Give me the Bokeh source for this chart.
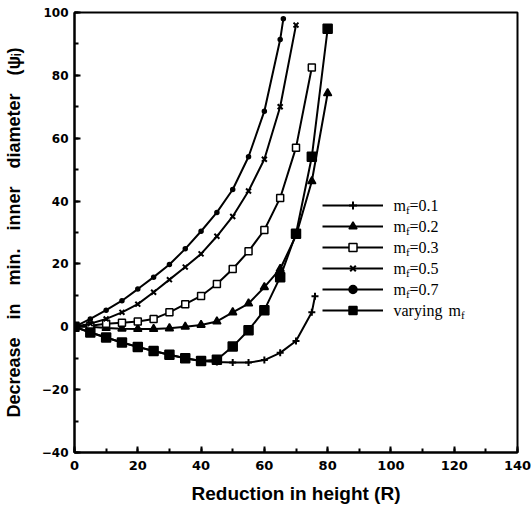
from bokeh.plotting import figure
from bokeh.models import Range1d, FixedTicker, Legend, LegendItem, Label
from bokeh.embed import file_html
from bokeh.resources import INLINE

# ---------------- data ----------------
x_01 = [0, 5, 10, 15, 20, 25, 30, 35, 40, 45, 50, 55, 60, 65, 70, 75, 76]
y_01 = [0, -1.8, -3.4, -5.0, -6.4, -7.7, -8.9, -10.0, -10.9, -11.2, -11.4, -11.4, -10.6, -8.3, -4.5, 4.6, 9.7]

x_02 = [0, 5, 10, 15, 20, 25, 30, 35, 40, 45, 50, 55, 60, 65, 70, 75, 80]
y_02 = [0, 0, -0.4, -0.6, -0.7, -0.7, -0.5, 0, 0.6, 1.7, 4.6, 7.4, 12.6, 18.4, 29.0, 46.3, 74.3]

x_03 = [0, 5, 10, 15, 20, 25, 30, 35, 40, 45, 50, 55, 60, 65, 70, 75]
y_03 = [0, 0.3, 1.0, 1.3, 1.7, 2.5, 4.6, 7.2, 9.8, 13.6, 18.4, 24.0, 30.8, 41.0, 57.0, 82.5]

x_05 = [0, 5, 10, 15, 20, 25, 30, 35, 40, 45, 50, 55, 60, 65, 70]
y_05 = [0, 1.0, 2.5, 4.6, 7.2, 11.0, 15.0, 19.0, 23.2, 28.8, 35.1, 43.2, 53.3, 70.0, 96.0]

x_07 = [0, 5, 10, 15, 20, 25, 30, 35, 40, 45, 50, 55, 60, 65, 66]
y_07 = [0, 2.5, 5.3, 8.3, 12.0, 15.8, 19.8, 24.8, 30.4, 36.4, 43.7, 54.1, 68.6, 91.4, 98.0]

x_var = [0, 5, 10, 15, 20, 25, 30, 35, 40, 45, 50, 55, 60, 65, 70, 75, 80]
y_var = [0, -1.8, -3.4, -5.0, -6.4, -7.7, -8.9, -10.0, -10.9, -10.5, -6.3, -1.1, 5.3, 15.8, 29.6, 54.1, 94.8]

series_labels = ["=0.1", "=0.2", "=0.3", "=0.5", "=0.7", ""]
x_ticks = [0, 20, 40, 60, 80, 100, 120, 140]
y_ticks = [-40, -20, 0, 20, 40, 60, 80, 100]

# ---------------- figure ----------------
p = figure(width=531, height=514, output_backend="svg", toolbar_location=None,
           x_range=Range1d(0, 140), y_range=Range1d(-40, 100),
           min_border_left=74, min_border_right=14, min_border_top=12, min_border_bottom=62)
p.xgrid.visible = False
p.ygrid.visible = False
p.outline_line_color = "black"
p.outline_line_width = 2
p.background_fill_color = "white"
p.border_fill_color = "white"

p.xaxis.ticker = FixedTicker(ticks=x_ticks, minor_ticks=list(range(0, 141, 10)))
p.yaxis.ticker = FixedTicker(ticks=y_ticks, minor_ticks=list(range(-40, 101, 10)))
for ax in (p.xaxis[0], p.yaxis[0]):
    ax.axis_line_width = 2
    ax.axis_line_color = "black"
    ax.major_tick_in = 6
    ax.major_tick_out = 0
    ax.minor_tick_in = 4
    ax.minor_tick_out = 0
    ax.major_tick_line_width = 2
    ax.minor_tick_line_width = 2
    ax.major_label_text_font = "DejaVu Sans"
    ax.major_label_text_font_style = "bold"
    ax.major_label_text_color = "black"
    ax.axis_label_text_font = "Liberation Sans"
    ax.axis_label_text_font_style = "bold"
    ax.axis_label_text_color = "black"
    ax.axis_label_text_font_size = "19px"

p.xaxis.major_label_text_font_size = "13px"
p.yaxis.major_label_text_font_size = "12px"
p.yaxis.axis_label_text_font_size = "18px"
p.xaxis.major_label_standoff = 8
p.yaxis.major_label_standoff = 6
p.xaxis.axis_label = "Reduction in height (R)"
p.yaxis.axis_label = "Decrease\u2003in\u2003min.\u2003inner\u2003diameter\u2003(\u03c8\u1d62)"
p.xaxis.axis_label_standoff = 10
p.yaxis.axis_label_standoff = 15

lw = 2
renderers = []
specs = [
    (x_01, y_01, "cross", 7, "black"),
    (x_02, y_02, "triangle", 8, "black"),
    (x_03, y_03, "square", 7, "white"),
    (x_05, y_05, "x", 7, "black"),
    (x_07, y_07, "circle", 4, "black"),
    (x_var, y_var, "square", 9, "black"),
]
for xs, ys, mk, sz, fill in specs:
    lr = p.line(xs, ys, line_color="black", line_width=lw)
    sr = p.scatter(xs, ys, marker=mk, size=sz, fill_color=fill, line_color="black",
                   line_width=2 if mk in ("x", "cross") else 1.5)
    renderers.append([lr, sr])

legend = Legend(items=[LegendItem(label=" ", renderers=r) for r in renderers],
                location=(248, 132), glyph_width=61, glyph_height=20, label_height=20,
                spacing=1, padding=0, margin=0, border_line_color=None,
                background_fill_alpha=0, label_standoff=0, label_width=0,
                label_text_font_size="1px")
p.add_layout(legend)

# legend text (layout in pixels converted to data units)
def px_to_data(px, py):
    return (px - 74) * 140 / 443, 100 - (py - 12) * 140 / 440

row_px = [205, 226, 247, 268, 289, 310]
for i, lab in enumerate(series_labels):
    dx, dy = px_to_data(393, row_px[i])
    if i < 5:
        p.add_layout(Label(x=dx, y=dy, text="m", text_font="Liberation Serif",
                           text_font_size="16px", text_baseline="middle", text_color="black"))
        p.add_layout(Label(x=dx, y=dy, x_offset=12.5, y_offset=-4, text="f",
                           text_font="Liberation Serif", text_font_size="11px",
                           text_baseline="middle", text_color="black"))
        p.add_layout(Label(x=dx, y=dy, x_offset=16, text=lab, text_font="Liberation Serif",
                           text_font_size="16px", text_baseline="middle", text_color="black"))
    else:
        p.add_layout(Label(x=dx, y=dy, text="varying", text_font="Liberation Serif",
                           text_font_size="16px", text_baseline="middle", text_color="black"))
        p.add_layout(Label(x=dx, y=dy, x_offset=55, text="m", text_font="Liberation Serif",
                           text_font_size="16px", text_baseline="middle", text_color="black"))
        p.add_layout(Label(x=dx, y=dy, x_offset=67.5, y_offset=-4, text="f",
                           text_font="Liberation Serif", text_font_size="11px",
                           text_baseline="middle", text_color="black"))

open("out.html", "w").write(file_html(p, INLINE))
